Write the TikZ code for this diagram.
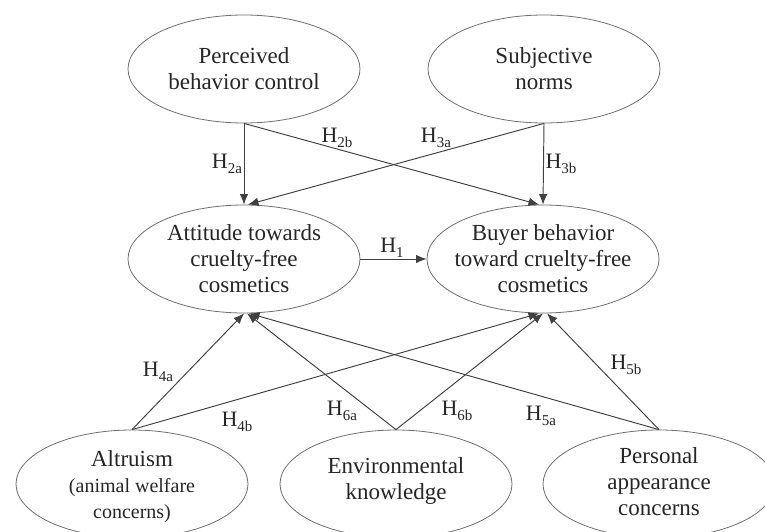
\documentclass[tikz,border=0pt]{standalone}
\usepackage{fontspec}
\setmainfont{Liberation Serif}
\usetikzlibrary{shapes.geometric,arrows.meta}
\definecolor{txt}{HTML}{262626}
\definecolor{edge}{HTML}{707070}
\definecolor{arr}{HTML}{404040}
\newcommand{\hyp}[1]{H\raisebox{-5.5pt}{\fontsize{15}{15}\selectfont #1}}
\begin{document}
\begin{tikzpicture}[x=1pt,y=-1pt,
  construct/.style={ellipse, draw=edge, line width=0.8pt, inner sep=0pt,
    minimum width=232pt, minimum height=108pt},
  ctext/.style={align=center, text=txt, font=\fontsize{23}{26}\selectfont},
  hlabel/.style={text=txt, font=\fontsize{22}{22}\selectfont, inner sep=0pt},
  link/.style={draw=arr, line width=0.95pt, -{Latex[length=10.5pt,width=8.5pt]}}]
\useasboundingbox (0,0) rectangle (765,532);
\clip (0,0) rectangle (765,532);
\fill[white] (0,0) rectangle (765,532);
% constructs
\node[construct] (pbc) at (244,69) {};
\node[construct] (sn) at (544,69) {};
\node[construct] (att) at (244,259) {};
\node[construct] (buy) at (543,259) {};
\node[construct] (alt) at (132,484) {};
\node[construct] (env) at (396,484) {};
\node[construct] (pac) at (659,484) {};
% texts
\node[ctext] (pbct) at (pbc) {Perceived\\behavior control};
\node[ctext] (snt) at (sn) {Subjective\\norms};
\node[ctext] (attt) at (att) {Attitude towards\\cruelty-free\\cosmetics};
\node[ctext] (buyt) at (buy) {Buyer behavior\\toward cruelty-free\\cosmetics};
\node[ctext] (altt) at (132,487) {Altruism\\{\fontsize{20}{25}\selectfont (animal welfare}\\{\fontsize{20}{25}\selectfont concerns)}};
\node[ctext] (envt) at (396,481) {Environmental\\knowledge};
\node[ctext] (pact) at (659,482) {Personal\\appearance\\concerns};
% connectors
\draw[link] (pbc.south) -- (att.north);
\draw[link] (pbc.south) -- ([xshift=-4pt]buy.north);
\draw[link] (sn.south) -- (buy.north);
\draw[link] (sn.south) -- ([xshift=4pt]att.north);
\draw[link] (att.east) -- (buy.west);
\draw[link] (alt.north) -- (att.south);
\draw[link] (alt.north) -- ([xshift=-4pt]buy.south);
\draw[link] (env.north) -- ([xshift=3pt]att.south);
\draw[link] (env.north) -- (buy.south);
\draw[link] (pac.north) -- ([xshift=5pt]att.south);
\draw[link] (pac.north) -- ([xshift=4pt]buy.south);
% labels
\node[hlabel] (h2a) at (227,164) {\hyp{2a}};
\node[hlabel] (h2b) at (337,138) {\hyp{2b}};
\node[hlabel] (h3a) at (436,138) {\hyp{3a}};
\node[hlabel] (h3b) at (561,164) {\hyp{3b}};
\node[hlabel] (h1) at (392,248) {\hyp{1}};
\node[hlabel] (h4a) at (158,372) {\hyp{4a}};
\node[hlabel] (h4b) at (237,422) {\hyp{4b}};
\node[hlabel] (h6a) at (342,411) {\hyp{6a}};
\node[hlabel] (h6b) at (457,411) {\hyp{6b}};
\node[hlabel] (h5a) at (541,416) {\hyp{5a}};
\node[hlabel] (h5b) at (626,365) {\hyp{5b}};
\end{tikzpicture}
\end{document}
